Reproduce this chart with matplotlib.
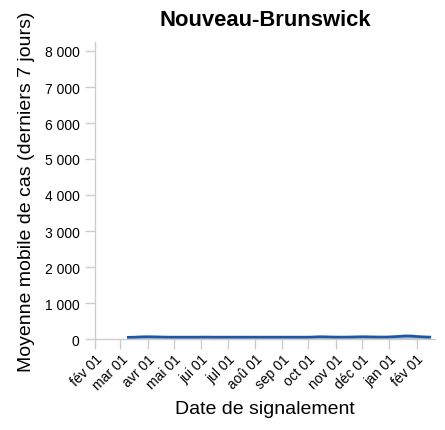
import matplotlib
matplotlib.use("Agg")
import matplotlib.pyplot as plt
import matplotlib.transforms as mtransforms
import pandas as pd

plt.rcParams['font.family'] = ['Liberation Sans', 'DejaVu Sans']

# weekly 7-day rolling average
start_date = "2020-03-10"
cases = [45, 50, 58, 62, 60, 56, 52, 50, 50, 50, 50, 50,
         52, 52, 50, 50, 50, 50, 50, 50, 50, 50, 50, 50,
         50, 50, 50, 50, 50, 50, 55, 62, 60, 55, 52, 52,
         54, 58, 62, 60, 56, 54, 54, 62, 72, 85, 82, 68,
         58, 52]
dates = pd.date_range(start_date, periods=len(cases), freq="7D")

month_labels = ["fév", "mar", "avr", "mai", "jui", "jul", "aoû",
                "sep", "oct", "nov", "déc", "jan", "fév"]
tick_dates = pd.date_range("2020-02-01", periods=len(month_labels), freq="MS")

x_min = pd.Timestamp("2020-02-01")
x_max = pd.Timestamp("2021-02-22")
y_max = 8250

fig = plt.figure(figsize=(4.45, 4.31), dpi=100)
ax = fig.add_axes([95/445, 1 - 340/431, 340/445, 297/431])

ax.fill_between(dates, 0, cases, color="#a9c1de", lw=0)
ax.plot(dates, cases, color="#1f57a3", lw=2)

ax.set_xlim(x_min, x_max)
ax.set_ylim(0, y_max)

ax.set_yticks(range(0, 8001, 1000))
ax.set_yticklabels([f"{v:,}".replace(",", " ") for v in range(0, 8001, 1000)])
ax.set_xticks(tick_dates)
ax.set_xticklabels([m + " 01" for m in month_labels], rotation=45,
                   ha="right", rotation_mode="anchor")
shift = mtransforms.ScaledTranslation(-8/100, -4/100, fig.dpi_scale_trans)
for lab in ax.get_xticklabels():
    lab.set_transform(lab.get_transform() + shift)

for s in ["top", "right"]:
    ax.spines[s].set_visible(False)
for s in ["left", "bottom"]:
    ax.spines[s].set_color("#cccccc")
    ax.spines[s].set_linewidth(1)
ax.tick_params(axis="both", colors="#cccccc", length=7, width=1,
               labelcolor="black", labelsize=10)
ax.tick_params(axis="y", pad=4)
ax.tick_params(axis="x", pad=2)

ax.set_title("Nouveau-Brunswick", fontsize=15.8, fontweight="bold", pad=12)
ax.set_xlabel("Date de signalement", fontsize=14, labelpad=6)
ax.set_ylabel("Moyenne mobile de cas (derniers 7 jours)", fontsize=14, labelpad=7)

fig.savefig("out.png", dpi=100)
